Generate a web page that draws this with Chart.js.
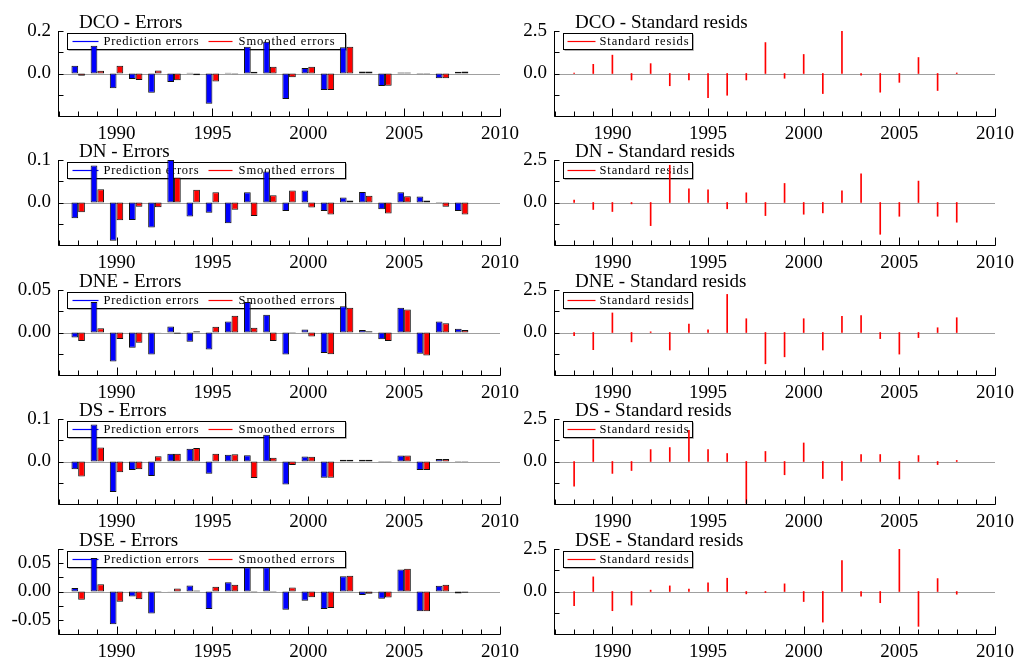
<!DOCTYPE html>
<html>
<head>
<meta charset="utf-8">
<script src="https://cdn.jsdelivr.net/npm/chart.js@4.4.1/dist/chart.umd.min.js"></script>
<style>
  html, body { margin: 0; padding: 0; background: #fff; width: 1021px; height: 659px; overflow: hidden; }
  canvas { position: absolute; }
</style>
</head>
<body>
<script>
// Observation years and x-axis labels
const years = [1988, 1989, 1990, 1991, 1992, 1993, 1994, 1995, 1996, 1997, 1998,
               1999, 2000, 2001, 2002, 2003, 2004, 2005, 2006, 2007, 2008];
const xTickYears = [1990, 1995, 2000, 2005, 2010];

// DCO
const dcoPrediction = [0.037, 0.131, -0.069, -0.026, -0.090, -0.040, 0.003, -0.142, 0.003, 0.126, 0.150,
                       -0.120, 0.026, -0.078, 0.123, 0.010, -0.059, 0.005, -0.003, -0.022, 0.008];
const dcoSmoothed   = [-0.010, 0.013, 0.037, -0.030, 0.014, -0.032, -0.008, -0.038, -0.004, 0.008, 0.032,
                       -0.018, 0.032, -0.078, 0.126, 0.010, -0.058, 0.005, -0.003, -0.022, 0.010];
const dcoResid      = [0.02, 0.54, 1.08, -0.38, 0.58, -0.72, -0.38, -1.42, -1.28, -0.38, 1.82,
                       -0.28, 1.12, -1.18, 2.48, -0.10, -1.10, -0.52, 0.94, -1.00, 0.03];
const dcoRange = [-0.2, 0.2];
const dcoTicks = [0, 0.2];
const dcoTickLabels = ['0.0', '0.2'];

// DN
const dnPrediction = [-0.037, 0.087, -0.090, -0.041, -0.059, 0.100, -0.033, -0.024, -0.049, 0.024, 0.073,
                      -0.020, 0.028, -0.020, 0.012, 0.025, -0.016, 0.024, 0.014, -0.001, -0.020];
const dnSmoothed   = [-0.023, 0.031, -0.042, -0.010, -0.011, 0.059, 0.030, 0.024, -0.017, -0.032, 0.017,
                      0.028, -0.012, -0.028, 0.005, 0.016, -0.026, 0.015, 0.005, -0.010, -0.028];
const dnResid      = [0.14, -0.41, -0.53, -0.08, -1.36, 2.19, 0.81, 0.75, -0.37, 0.57, -0.77,
                      1.12, -0.69, -0.61, 0.69, 1.69, -1.87, -0.81, 1.26, -0.81, -1.16];
const dnRange = [-0.1, 0.1];
const dnTicks = [0, 0.1];
const dnTickLabels = ['0.0', '0.1'];

// DNE
const dnePrediction = [-0.006, 0.036, -0.034, -0.018, -0.026, 0.007, -0.011, -0.020, 0.013, 0.036, 0.021,
                       -0.026, 0.0035, -0.024, 0.031, 0.003, -0.008, 0.029, -0.025, 0.013, 0.0043];
const dneSmoothed   = [-0.010, 0.005, -0.0075, -0.012, 0.0004, -0.0015, 0.0015, 0.0067, 0.0197, 0.0055, -0.010,
                       -0.0005, -0.0047, -0.0256, 0.029, 0.0015, -0.010, 0.027, -0.027, 0.011, 0.0028];
const dneResid      = [-0.18, -1.01, 1.15, -0.55, 0.04, -1.03, 0.50, 0.16, 2.24, 0.81, -1.84,
                       -1.43, 0.81, -1.03, 0.95, 0.99, -0.36, -1.27, -0.30, 0.28, 0.87];
const dneRange = [-0.05, 0.05];
const dneTicks = [0, 0.05];
const dneTickLabels = ['0.00', '0.05'];

// DS
const dsPrediction = [-0.018, 0.087, -0.072, -0.020, -0.034, 0.018, 0.030, -0.029, 0.016, 0.015, 0.063,
                      -0.054, 0.012, -0.038, 0.004, 0.004, -0.0015, 0.014, -0.020, 0.006, -0.001];
const dsSmoothed   = [-0.035, 0.033, -0.025, -0.018, 0.0125, 0.018, 0.032, 0.018, 0.017, -0.039, 0.009,
                      -0.008, 0.011, -0.038, 0.004, 0.004, -0.0015, 0.014, -0.020, 0.006, -0.001];
const dsResid      = [-1.45, 1.29, -0.70, -0.53, 0.70, 0.82, 1.84, 0.70, 0.47, -2.46, 0.59,
                      -0.78, 1.09, -1.00, -1.11, 0.41, 0.41, -1.03, 0.35, -0.18, 0.06];
const dsRange = [-0.1, 0.1];
const dsTicks = [0, 0.1];
const dsTickLabels = ['0.0', '0.1'];

// DSE
const dsePrediction = [0.006, 0.059, -0.058, -0.009, -0.039, -0.0006, 0.0106, -0.031, 0.0165, 0.043, 0.043,
                       -0.032, -0.0165, -0.031, 0.027, -0.006, -0.013, 0.039, -0.035, 0.010, -0.0035];
const dseSmoothed   = [-0.0147, 0.013, -0.018, -0.0135, 0.001, 0.0053, 0.0018, 0.0082, 0.012, -0.0015, -0.001,
                       0.007, -0.010, -0.029, 0.028, -0.004, -0.0106, 0.040, -0.0347, 0.012, -0.0024];
const dseResid      = [-0.84, 0.86, -1.13, -0.80, 0.08, 0.33, 0.14, 0.51, 0.78, -0.14, -0.06,
                       0.45, -0.59, -1.80, 1.82, -0.27, -0.66, 2.50, -2.05, 0.76, -0.16];
const dseRange = [-0.075, 0.075];
const dseTicks = [-0.05, 0, 0.05];
const dseTickLabels = ['-0.05', '0.00', '0.05'];

// Standardised residual axis (shared by every right-hand panel)
const residRange = [-2.5, 2.5];
const residTicks = [0, 2.5];
const residTickLabels = ['0.0', '2.5'];

const series = [
  { name: 'DCO', pred: dcoPrediction, smooth: dcoSmoothed, resid: dcoResid, range: dcoRange, ticks: dcoTicks, labels: dcoTickLabels },
  { name: 'DN',  pred: dnPrediction,  smooth: dnSmoothed,  resid: dnResid,  range: dnRange,  ticks: dnTicks,  labels: dnTickLabels },
  { name: 'DNE', pred: dnePrediction, smooth: dneSmoothed, resid: dneResid, range: dneRange, ticks: dneTicks, labels: dneTickLabels },
  { name: 'DS',  pred: dsPrediction,  smooth: dsSmoothed,  resid: dsResid,  range: dsRange,  ticks: dsTicks,  labels: dsTickLabels },
  { name: 'DSE', pred: dsePrediction, smooth: dseSmoothed, resid: dseResid, range: dseRange, ticks: dseTicks, labels: dseTickLabels }
];

const SERIF = '"Liberation Serif", "Times New Roman", serif';

// Draws a string with even extra spacing so that it spans the given width
function spacedText(ctx, s, x, y, width) {
  const natural = ctx.measureText(s).width;
  const extra = s.length > 1 ? (width - natural) / (s.length - 1) : 0;
  let cx = x;
  for (const ch of s) {
    ctx.fillText(ch, cx, y);
    cx += ctx.measureText(ch).width + extra;
  }
}

// Frame plugin: zero line, boxed legend, inward ticks, axis lines and panel title
const framePlugin = {
  id: 'frame',
  beforeDatasetsDraw(chart, args, o) {
    const { ctx, chartArea: a, scales } = chart;
    const y0 = Math.round(scales.y.getPixelForValue(0)) + 0.5;
    ctx.save();
    ctx.strokeStyle = '#a0a0a0';
    ctx.lineWidth = 1;
    ctx.beginPath();
    ctx.moveTo(a.left, y0);
    ctx.lineTo(a.right, y0);
    ctx.stroke();

    // legend box
    const bx = Math.round(a.left + 8) + 0.5, by = Math.round(a.top + 2) + 0.5;
    const bw = o.legendWidth, bh = 16;
    ctx.fillStyle = '#fff';
    ctx.fillRect(bx, by, bw, bh);
    ctx.strokeStyle = '#b0b0b0';
    ctx.beginPath();
    ctx.moveTo(bx + 1, by + bh + 1);
    ctx.lineTo(bx + bw + 1, by + bh + 1);
    ctx.lineTo(bx + bw + 1, by + 1);
    ctx.stroke();
    ctx.strokeStyle = '#000';
    ctx.strokeRect(bx, by, bw, bh);
    ctx.font = '12.5px ' + SERIF;
    ctx.textBaseline = 'middle';
    ctx.fillStyle = '#000';
    const ly = by + bh / 2;
    o.entries.forEach(e => {
      ctx.strokeStyle = e.color;
      ctx.lineWidth = 1.2;
      ctx.beginPath();
      ctx.moveTo(bx + e.line[0], ly);
      ctx.lineTo(bx + e.line[1], ly);
      ctx.stroke();
      spacedText(ctx, e.text, bx + e.textX, ly + 0.5, e.textW);
    });
    ctx.restore();
  },
  afterDatasetsDraw(chart, args, o) {
    const { ctx, chartArea: a, scales } = chart;
    const xs = scales.x, ys = scales.y;
    const left = Math.round(a.left) - 0.5;
    const bottom = Math.round(a.bottom) + 0.5;
    ctx.save();
    ctx.strokeStyle = '#000';
    ctx.lineWidth = 1;
    ctx.beginPath();
    ctx.moveTo(left, Math.round(a.top));
    ctx.lineTo(left, bottom);
    ctx.lineTo(Math.round(a.right) + 0.5, bottom);
    // inward ticks on the x axis, one per year, longer every five years
    for (let yr = Math.ceil(xs.min); yr <= xs.max; yr++) {
      const px = Math.round(xs.getPixelForValue(yr)) + 0.5;
      const len = yr % 5 === 0 ? 8 : 5;
      ctx.moveTo(px, bottom);
      ctx.lineTo(px, bottom - len);
    }
    // inward ticks on the y axis at half steps
    const step = o.minorStep;
    for (let k = 0; ; k++) {
      const v = ys.min + k * step;
      if (v > ys.max + step * 1e-6) break;
      const py = Math.round(ys.getPixelForValue(v)) + 0.5;
      ctx.moveTo(left, py);
      ctx.lineTo(left + 5, py);
    }
    ctx.stroke();

    ctx.fillStyle = '#000';
    ctx.font = '19px ' + SERIF;
    ctx.textBaseline = 'alphabetic';
    ctx.fillText(o.title, a.left + 20, a.top - 3);
    ctx.restore();
  }
};

const ROW_TOPS = [0, 129, 259, 388, 518];
const CANVAS_H = 142;
const AREA_TOP = 31;
const X_AXIS_H = 26;

function makeCanvas(left, top, width, height) {
  const c = document.createElement('canvas');
  c.width = width;
  c.height = height;
  c.style.left = left + 'px';
  c.style.top = top + 'px';
  c.style.width = width + 'px';
  c.style.height = height + 'px';
  document.body.appendChild(c);
  return c;
}

function scaleOptions(range, tickVals, tickLabels, yWidth) {
  const tickFont = { family: SERIF, size: 19 };
  return {
    x: {
      type: 'linear', min: 1987, max: 2010, offset: false,
      grid: { display: false, drawTicks: false }, border: { display: false },
      afterBuildTicks: s => { s.ticks = xTickYears.map(v => ({ value: v })); },
      afterFit: s => { s.height = X_AXIS_H; },
      ticks: { font: tickFont, color: '#000', padding: 7, maxRotation: 0, autoSkip: false,
               callback: v => String(v) }
    },
    y: {
      type: 'linear', min: range[0], max: range[1],
      grid: { display: false, drawTicks: false }, border: { display: false },
      afterBuildTicks: s => { s.ticks = tickVals.map(v => ({ value: v })); },
      afterFit: s => { s.width = yWidth; },
      ticks: { font: tickFont, color: '#000', padding: 8, autoSkip: false,
               callback: (v, i) => tickLabels[i] }
    }
  };
}

series.forEach((s, row) => {
  const top = ROW_TOPS[row];
  const minorStep = (s.ticks[s.ticks.length - 1] - s.ticks[s.ticks.length - 2]) / 2;

  // Prediction / smoothed errors
  new Chart(makeCanvas(0, top, 530, CANVAS_H), {
    type: 'bar',
    data: {
      datasets: [
        { label: 'Prediction errors', data: years.map((yr, i) => ({ x: yr, y: s.pred[i] })),
          backgroundColor: '#0000ff', borderColor: '#111', borderWidth: 1, borderSkipped: false,
          categoryPercentage: 0.7, barPercentage: 1 },
        { label: 'Smoothed errors', data: years.map((yr, i) => ({ x: yr, y: s.smooth[i] })),
          backgroundColor: '#ff0000', borderColor: '#111', borderWidth: 1, borderSkipped: false,
          categoryPercentage: 0.7, barPercentage: 1 }
      ]
    },
    options: {
      responsive: false, animation: false, devicePixelRatio: 1,
      layout: { padding: { top: AREA_TOP, right: 30, left: 0, bottom: CANVAS_H - AREA_TOP - 85 - X_AXIS_H } },
      plugins: {
        legend: { display: false }, tooltip: { enabled: false },
        frame: {
          title: s.name + ' - Errors', minorStep, legendWidth: 278,
          entries: [
            { color: '#0000ff', line: [5, 31], text: 'Prediction errors', textX: 36, textW: 95 },
            { color: '#ff0000', line: [141, 165], text: 'Smoothed errors', textX: 171, textW: 96 }
          ]
        }
      },
      scales: scaleOptions(s.range, s.ticks, s.labels, 59)
    },
    plugins: [framePlugin]
  });

  // Standardised residuals
  new Chart(makeCanvas(510, top, 511, CANVAS_H), {
    type: 'bar',
    data: {
      datasets: [
        { label: 'Standard resids', data: years.map((yr, i) => ({ x: yr, y: s.resid[i] })),
          backgroundColor: '#ff0000', borderWidth: 0, barThickness: 1 }
      ]
    },
    options: {
      responsive: false, animation: false, devicePixelRatio: 1,
      layout: { padding: { top: AREA_TOP, right: 24, left: 0, bottom: CANVAS_H - AREA_TOP - 85 - X_AXIS_H } },
      plugins: {
        legend: { display: false }, tooltip: { enabled: false },
        frame: {
          title: s.name + ' - Standard resids', minorStep: 1.25, legendWidth: 129,
          entries: [
            { color: '#ff0000', line: [4, 32], text: 'Standard resids', textX: 36, textW: 89 }
          ]
        }
      },
      scales: scaleOptions(residRange, residTicks, residTickLabels, 45)
    },
    plugins: [framePlugin]
  });
});
</script>
</body>
</html>
